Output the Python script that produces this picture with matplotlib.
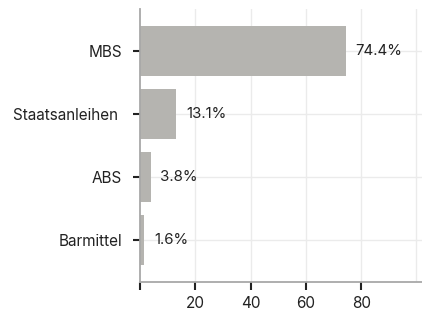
import matplotlib.pyplot as plt

# data
categories = ['MBS', 'Staatsanleihen ', 'ABS', 'Barmittel']
values = [74.4, 13.1, 3.8, 1.6]
labels = ['74.4%', '13.1%', '3.8%', '1.6%']

plt.rcParams['font.family'] = ['Inter', 'DejaVu Sans']

fig = plt.figure(figsize=(4.22, 3.13), dpi=100)
ax = fig.add_axes([140/422, 1-282/313, 282/422, 273/313])

pos = list(range(len(categories)))[::-1]
ax.barh(pos, values, height=0.79, color='#b5b4b0', zorder=2)

for p, v, t in zip(pos, values, labels):
    ax.text(v + 3.6, p, t, va='center', ha='left', fontsize=10.8, color='#222222')

ax.set_xlim(0, 102)
ax.set_ylim(-0.67, 3.67)
ax.set_yticks(pos)
ax.set_yticklabels(categories)
ax.set_xticks([0, 20, 40, 60, 80])
ax.set_xticklabels(['', '20', '40', '60', '80'])

# grid
for g in [20, 40, 60, 80, 100]:
    ax.axvline(g, color='#ebebeb', lw=1, zorder=0)
for p in pos:
    ax.axhline(p, color='#ebebeb', lw=1, zorder=0)

for s in ['top', 'right']:
    ax.spines[s].set_visible(False)
ax.spines['left'].set_color('#a8a8a8')
ax.spines['bottom'].set_color('#a8a8a8')
ax.spines['left'].set_linewidth(1.3)
ax.spines['bottom'].set_linewidth(1.3)

ax.tick_params(axis='y', length=5, width=1.5, color='#222222', pad=8, labelsize=11, labelcolor='#222222')
ax.tick_params(axis='x', length=6, width=1.5, color='#222222', pad=4, labelsize=11, labelcolor='#222222')

plt.savefig('out.png', dpi=100)
